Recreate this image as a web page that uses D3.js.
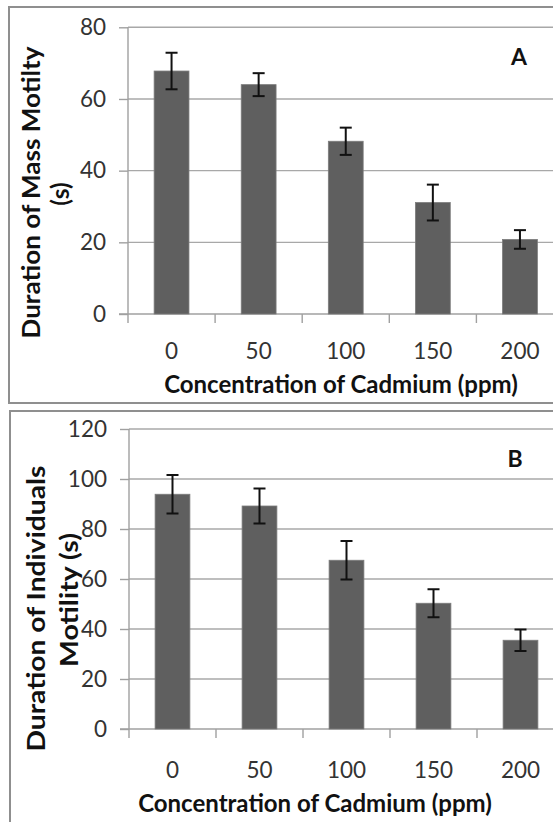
<!DOCTYPE html>
<html><head><meta charset="utf-8">
<script src="https://cdn.jsdelivr.net/npm/d3@7"></script>
<style>
body{margin:0;background:#fff}
svg{display:block}
text{font-family:Lato, "Open Sans", sans-serif}
</style>
</head><body>
<svg id="c" width="553" height="822"></svg>
<script>
// ---- data ----
const categories = ["0", "50", "100", "150", "200"];
const massMotility = [67.8, 64.0, 48.2, 31.1, 20.8];
const massMotilityErr = [5.1, 3.2, 3.8, 5.0, 2.6];
const indivMotility = [93.9, 89.2, 67.5, 50.3, 35.5];
const indivMotilityErr = [7.7, 7.0, 7.7, 5.6, 4.3];
const yTicksA = [0, 20, 40, 60, 80];
const yTicksB = [0, 20, 40, 60, 80, 100, 120];
const xTitle = "Concentration of Cadmium (ppm)";
const yTitleA = ["Duration of Mass Motilty", "(s)"];
const yTitleB = ["Duration of Individuals", "Motility (s)"];

const svg = d3.select("#c");

function panel(cfg) {
  const g = svg.append("g");
  // frame
  g.append("rect").attr("x", cfg.frame[0]).attr("y", cfg.frame[1])
    .attr("width", cfg.frame[2]).attr("height", cfg.frame[3])
    .attr("fill", "none").attr("stroke", "#8f8f8f").attr("stroke-width", 2);

  const x = d3.scaleBand().domain(categories).range([cfg.x0, cfg.x1]).padding(0);
  const y = d3.scaleLinear().domain([0, d3.max(cfg.ticks)]).range([cfg.yBottom, cfg.yTop]);

  // gridlines (non-zero)
  g.selectAll(".grid").data(cfg.ticks.filter(t => t !== 0)).join("line")
    .attr("x1", cfg.x0).attr("x2", cfg.x1)
    .attr("y1", d => y(d)).attr("y2", d => y(d))
    .attr("stroke", "#a8a8a8").attr("stroke-width", 1.4);

  // y axis with outward ticks
  const yAxis = d3.axisLeft(y).tickValues(cfg.ticks).tickSize(9).tickPadding(13);
  const ya = g.append("g").attr("transform", `translate(${cfg.x0},0)`).call(yAxis);
  ya.select(".domain").remove();
  ya.selectAll(".tick line").attr("stroke", "#a0a0a0").attr("stroke-width", 1.4);
  ya.selectAll(".tick text").attr("font-size", 22.5).attr("fill", "#333")
    .attr("font-family", "Lato, sans-serif");
  // y axis line extending below baseline
  g.append("line").attr("x1", cfg.x0).attr("x2", cfg.x0)
    .attr("y1", y(d3.max(cfg.ticks))).attr("y2", y(0) + 9)
    .attr("stroke", "#a0a0a0").attr("stroke-width", 1.4);

  // x axis: baseline + ticks at band boundaries
  g.append("line").attr("x1", cfg.x0 - 9).attr("x2", cfg.x1)
    .attr("y1", y(0)).attr("y2", y(0))
    .attr("stroke", "#a0a0a0").attr("stroke-width", 1.4);
  g.selectAll(".xt").data(categories.slice(1)).join("line")
    .attr("x1", d => x(d)).attr("x2", d => x(d))
    .attr("y1", y(0)).attr("y2", y(0) + 9)
    .attr("stroke", "#a0a0a0").attr("stroke-width", 1.4);
  g.selectAll(".xl").data(categories).join("text")
    .attr("x", d => x(d) + x.bandwidth() / 2).attr("y", cfg.xLabelY)
    .attr("text-anchor", "middle").attr("font-size", 22.5).attr("fill", "#333")
    .text(d => d);

  // bars
  const bw = x.bandwidth() * 0.4;
  g.selectAll(".bar").data(cfg.values).join("rect")
    .attr("x", (d, i) => x(categories[i]) + (x.bandwidth() - bw) / 2)
    .attr("width", bw)
    .attr("y", d => y(d)).attr("height", d => y(0) - y(d))
    .attr("fill", "#5f5f5f").attr("stroke", "#7c7c7c").attr("stroke-width", 0.8);

  // error bars
  const cap = 6;
  cfg.values.forEach((v, i) => {
    const cx = x(categories[i]) + x.bandwidth() / 2;
    const e = cfg.errs[i];
    g.append("line").attr("x1", cx).attr("x2", cx).attr("y1", y(v - e)).attr("y2", y(v + e))
      .attr("stroke", "#111").attr("stroke-width", 2);
    [v - e, v + e].forEach(t => {
      g.append("line").attr("x1", cx - cap).attr("x2", cx + cap).attr("y1", y(t)).attr("y2", y(t))
        .attr("stroke", "#111").attr("stroke-width", 2);
    });
  });

  // x title
  g.append("text").attr("x", cfg.xTitleX).attr("y", cfg.xTitleY)
    .attr("text-anchor", "middle").attr("font-size", 24).attr("font-weight", "bold")
    .attr("fill", "#111").text(xTitle);

  // y title (rotated, 2 lines)
  cfg.yTitle.forEach((t, i) => {
    const p = cfg.yTitlePos[i];
    const tx = g.append("text").attr("transform", `translate(${p[0]},${p[1]}) rotate(-90)`)
      .attr("text-anchor", "middle").attr("font-size", 24.5).attr("font-weight", "bold")
      .attr("fill", "#111").text(t);
    if (p[2]) tx.attr("textLength", p[2]).attr("lengthAdjust", "spacingAndGlyphs");
  });

  // panel letter
  g.append("text").attr("x", cfg.letterPos[0]).attr("y", cfg.letterPos[1])
    .attr("text-anchor", "middle").attr("font-size", 23).attr("font-weight", "bold")
    .attr("fill", "#111").text(cfg.letter);
}

panel({
  frame: [9, 7, 620, 396],
  x0: 128, x1: 563.5, yBottom: 314, yTop: 27.3,
  ticks: yTicksA, values: massMotility, errs: massMotilityErr,
  xLabelY: 359, xTitleX: 341, xTitleY: 393,
  yTitle: yTitleA, yTitlePos: [[39.5, 192.5, 292], [69, 194]],
  letter: "A", letterPos: [519, 65]
});

panel({
  frame: [10, 411, 620, 440],
  x0: 129, x1: 564, yBottom: 729, yTop: 429,
  ticks: yTicksB, values: indivMotility, errs: indivMotilityErr,
  xLabelY: 778, xTitleX: 315, xTitleY: 812,
  yTitle: yTitleB, yTitlePos: [[45, 608.5, 286], [78, 600, 134]],
  letter: "B", letterPos: [515, 467]
});
</script>
</body></html>
